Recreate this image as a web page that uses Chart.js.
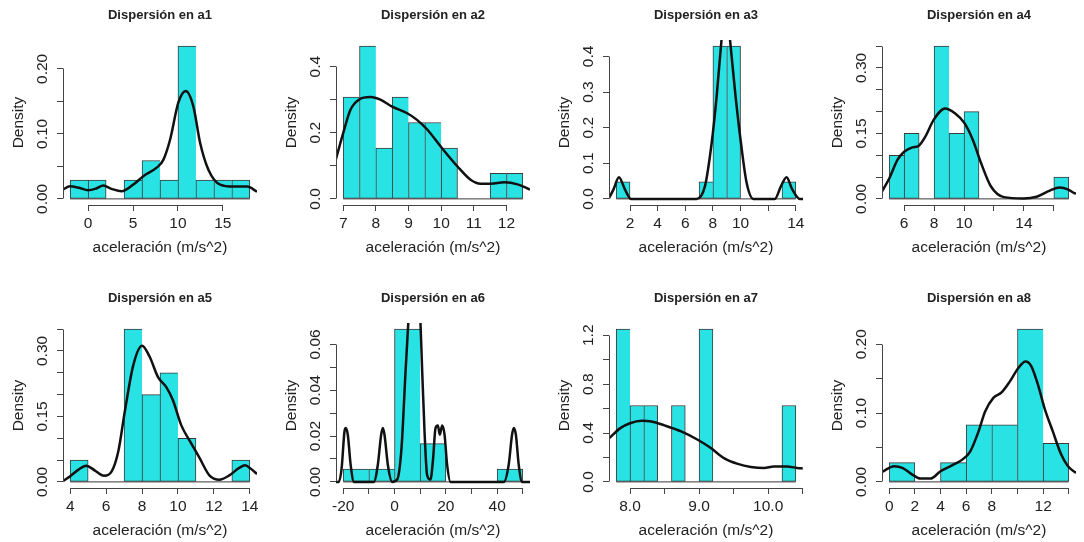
<!DOCTYPE html>
<html>
<head>
<meta charset="utf-8">
<title>Dispersión en a1 - a8</title>
<script src="https://cdn.jsdelivr.net/npm/chart.js@4"></script>
<style>
    html, body { margin: 0; padding: 0; background: #fff; }
    #wrap { position: relative; width: 1084px; height: 542px; overflow: hidden; }
    #wrap canvas { position: absolute; }
</style>
</head>
<body>
<div id="wrap"></div>
<script>
// ---- data (density scale) ----
const a1Breaks = [-2, 0, 2, 4, 6, 8, 10, 12, 14, 16, 18];
const a1Dens = [0.029, 0.029, 0, 0.029, 0.059, 0.029, 0.235, 0.029, 0.029, 0.029];
const a1CurveX = [-2.8, -2.04, -1, 0, 0.9, 1.68, 2.6, 3.72, 5.03, 6.14, 7.63, 8.37, 9.12, 10.04, 10.87, 11.72, 12.47, 13.39, 14.7, 16.18, 17.7, 18.8];
const a1CurveY = [0.0143, 0.0194, 0.017, 0.0133, 0.016, 0.0205, 0.0154, 0.0117, 0.022, 0.035, 0.048, 0.06, 0.091, 0.148, 0.166, 0.142, 0.086, 0.045, 0.022, 0.019, 0.019, 0.011];
const a1XTicks = [0, 5, 10, 15];
const a1XLabels = ['0', '5', '10', '15'];
const a1YTicks = [0, 0.05, 0.1, 0.15, 0.2];
const a1YLabels = ['0.00', '', '0.10', '', '0.20'];

const a2Breaks = [7, 7.5, 8, 8.5, 9, 9.5, 10, 10.5, 11, 11.5, 12, 12.5];
const a2Dens = [0.308, 0.462, 0.154, 0.308, 0.231, 0.231, 0.154, 0, 0, 0.077, 0.077];
const a2CurveX = [6.78, 7.0, 7.22, 7.48, 7.84, 8.14, 8.5, 8.96, 9.26, 9.58, 9.98, 10.5, 10.9, 11.21, 11.52, 11.93, 12.34, 12.72];
const a2CurveY = [0.121, 0.199, 0.269, 0.3, 0.308, 0.3, 0.279, 0.259, 0.239, 0.209, 0.159, 0.098, 0.058, 0.046, 0.046, 0.05, 0.044, 0.028];
const a2XTicks = [7, 8, 9, 10, 11, 12];
const a2XLabels = ['7', '8', '9', '10', '11', '12'];
const a2YTicks = [0, 0.1, 0.2, 0.3, 0.4];
const a2YLabels = ['0.0', '', '0.2', '', '0.4'];

const a3Breaks = [1, 2, 3, 4, 5, 6, 7, 8, 9, 10, 11, 12, 13, 14];
const a3Dens = [0.048, 0, 0, 0, 0, 0, 0.048, 0.429, 0.429, 0, 0, 0, 0.048];
const a3CurveX = [0.48, 0.8, 1.2, 1.64, 2.07, 4, 6.82, 7.42, 7.91, 8.27, 8.63, 8.93, 9.23, 9.64, 10.03, 10.44, 10.92, 12.48, 12.92, 13.33, 13.74, 14.29, 14.52];
const a3CurveY = [0.002, 0.026, 0.061, 0.026, 0, 0, 0, 0.035, 0.157, 0.288, 0.45, 0.56, 0.45, 0.288, 0.157, 0.045, 0, 0, 0.035, 0.061, 0.027, 0, 0];
const a3XTicks = [2, 4, 6, 8, 10, 12, 14];
const a3XLabels = ['2', '4', '6', '8', '10', '', '14'];
const a3YTicks = [0, 0.1, 0.2, 0.3, 0.4];
const a3YLabels = ['0.0', '0.1', '0.2', '0.3', '0.4'];

const a4Breaks = [5, 6, 7, 8, 9, 10, 11, 12, 13, 14, 15, 16, 17];
const a4Dens = [0.1, 0.15, 0, 0.35, 0.15, 0.2, 0, 0, 0, 0, 0, 0.05];
const a4CurveX = [4.52, 5.02, 5.56, 6.0, 6.55, 6.98, 7.42, 7.97, 8.73, 9.39, 10.04, 10.59, 11.14, 11.79, 12.67, 13.98, 14.85, 15.73, 16.38, 16.93, 17.37, 17.48];
const a4CurveY = [0.017, 0.048, 0.09, 0.108, 0.118, 0.122, 0.143, 0.181, 0.207, 0.196, 0.173, 0.135, 0.082, 0.029, 0.004, 0.001, 0.005, 0.019, 0.026, 0.022, 0.013, 0.012];
const a4XTicks = [6, 8, 10, 12, 14, 16];
const a4XLabels = ['6', '8', '10', '', '14', ''];
const a4YTicks = [0, 0.05, 0.1, 0.15, 0.2, 0.25, 0.3, 0.35];
const a4YLabels = ['0.00', '', '', '0.15', '', '', '0.30', ''];

const a5Breaks = [4, 5, 6, 7, 8, 9, 10, 11, 12, 13, 14];
const a5Dens = [0.05, 0, 0, 0.35, 0.2, 0.25, 0.1, 0, 0, 0.05];
const a5CurveX = [3.6, 4.0, 4.46, 4.89, 5.38, 5.88, 6.31, 6.68, 7.04, 7.51, 8.0, 8.43, 8.89, 9.35, 9.72, 10.18, 10.73, 11.2, 11.75, 12.3, 12.86, 13.41, 13.74, 14.06, 14.4];
const a5CurveY = [0.002, 0.013, 0.028, 0.037, 0.026, 0.014, 0.024, 0.07, 0.161, 0.267, 0.312, 0.286, 0.24, 0.217, 0.187, 0.13, 0.089, 0.055, 0.015, 0.005, 0.015, 0.032, 0.038, 0.03, 0.018];
const a5XTicks = [4, 6, 8, 10, 12, 14];
const a5XLabels = ['4', '6', '8', '10', '12', '14'];
const a5YTicks = [0, 0.05, 0.1, 0.15, 0.2, 0.25, 0.3, 0.35];
const a5YLabels = ['0.00', '', '', '0.15', '', '', '0.30', ''];

const a6Breaks = [-20, -10, 0, 10, 20, 30, 40, 50];
const a6Dens = [0.0056, 0.0056, 0.0667, 0.0167, 0, 0, 0.0056];
const a6CurveX = [-22.8, -21.7, -20.6, -19.5, -19.0, -18.2, -17.1, -15.8, -8.05, -6.5, -5.2, -4.55, -3.9, -2.6, -0.9, 1.04, 2.73, 4.29, 5.3, 7.6, 10.1, 10.8, 11.7, 12.7, 14.0, 15.06, 15.97, 16.9, 17.66, 18.57, 19.5, 20.5, 21.8, 42.6, 44.5, 45.8, 46.5, 47.3, 48.4, 49.7, 52.8];
const a6CurveY = [0, 0, 0.006, 0.022, 0.0235, 0.0206, 0.0075, 0, 0, 0.0075, 0.0206, 0.0235, 0.0206, 0.0075, 0, 0.001, 0.0148, 0.048, 0.068, 0.11, 0.07, 0.048, 0.022, 0.003, 0.001, 0.0104, 0.0235, 0.0246, 0.0206, 0.0246, 0.0206, 0.0075, 0, 0, 0.0075, 0.0206, 0.0235, 0.0206, 0.0075, 0, 0];
const a6XTicks = [-20, -10, 0, 10, 20, 30, 40, 50];
const a6XLabels = ['-20', '', '0', '', '20', '', '40', ''];
const a6YTicks = [0, 0.01, 0.02, 0.03, 0.04, 0.05, 0.06];
const a6YLabels = ['0.00', '', '0.02', '', '0.04', '', '0.06'];

const a7Breaks = [7.8, 8.0, 8.2, 8.4, 8.6, 8.8, 9.0, 9.2, 9.4, 9.6, 9.8, 10.0, 10.2, 10.4];
const a7Dens = [1.25, 0.625, 0.625, 0, 0.625, 0, 1.25, 0, 0, 0, 0, 0, 0.625];
const a7CurveX = [7.7, 7.86, 8.0, 8.17, 8.31, 8.5, 8.74, 8.98, 9.17, 9.36, 9.56, 9.75, 9.94, 10.08, 10.27, 10.42, 10.5];
const a7CurveY = [0.358, 0.44, 0.48, 0.5, 0.494, 0.462, 0.413, 0.345, 0.277, 0.195, 0.147, 0.122, 0.114, 0.125, 0.125, 0.114, 0.109];
const a7XTicks = [8.0, 8.5, 9.0, 9.5, 10.0, 10.5];
const a7XLabels = ['8.0', '', '9.0', '', '10.0', ''];
const a7YTicks = [0, 0.2, 0.4, 0.6, 0.8, 1.0, 1.2];
const a7YLabels = ['0.0', '', '0.4', '', '0.8', '', '1.2'];

const a8Breaks = [0, 2, 4, 6, 8, 10, 12, 14];
const a8Dens = [0.028, 0, 0.028, 0.083, 0.083, 0.222, 0.056];
const a8CurveX = [-0.56, 0.39, 1.03, 1.8, 2.45, 3.22, 4.0, 4.9, 5.67, 6.31, 6.96, 7.47, 8.12, 8.76, 9.41, 10.05, 10.62, 11.08, 11.6, 12.11, 12.76, 13.4, 13.92, 14.56];
const a8CurveY = [0.0145, 0.0227, 0.0203, 0.0106, 0.0048, 0.0048, 0.0155, 0.024, 0.032, 0.044, 0.073, 0.102, 0.122, 0.13, 0.146, 0.165, 0.175, 0.168, 0.141, 0.107, 0.073, 0.04, 0.023, 0.013];
const a8XTicks = [0, 2, 4, 6, 8, 10, 12, 14];
const a8XLabels = ['0', '2', '4', '6', '8', '', '12', ''];
const a8YTicks = [0, 0.05, 0.1, 0.15, 0.2];
const a8YLabels = ['0.00', '', '0.10', '', '0.20'];

// ---- look ----
const FONT = "'Liberation Sans', Arial, sans-serif";
const TEXT = '#222';
const AXIS = '#444';
const BAR_FILL = '#28e2e4';
const BAR_EDGE = '#3a3a3a';
const TICK_SIZE = 15.5;
const CANVAS_W = 265;
const CANVAS_H = 260;
const PLOT_LEFT = 63;
const PLOT_W = 194;
const PLOT_TOP = 40;
const PLOT_H = 165;
const COL_X = [0, 273, 546, 819];
const ROW_Y = [0, 283];

const panels = [
    { name: 'a1', breaks: a1Breaks, dens: a1Dens, cx: a1CurveX, cy: a1CurveY, xt: a1XTicks, xl: a1XLabels, yt: a1YTicks, yl: a1YLabels },
    { name: 'a2', breaks: a2Breaks, dens: a2Dens, cx: a2CurveX, cy: a2CurveY, xt: a2XTicks, xl: a2XLabels, yt: a2YTicks, yl: a2YLabels },
    { name: 'a3', breaks: a3Breaks, dens: a3Dens, cx: a3CurveX, cy: a3CurveY, xt: a3XTicks, xl: a3XLabels, yt: a3YTicks, yl: a3YLabels },
    { name: 'a4', breaks: a4Breaks, dens: a4Dens, cx: a4CurveX, cy: a4CurveY, xt: a4XTicks, xl: a4XLabels, yt: a4YTicks, yl: a4YLabels },
    { name: 'a5', breaks: a5Breaks, dens: a5Dens, cx: a5CurveX, cy: a5CurveY, xt: a5XTicks, xl: a5XLabels, yt: a5YTicks, yl: a5YLabels },
    { name: 'a6', breaks: a6Breaks, dens: a6Dens, cx: a6CurveX, cy: a6CurveY, xt: a6XTicks, xl: a6XLabels, yt: a6YTicks, yl: a6YLabels },
    { name: 'a7', breaks: a7Breaks, dens: a7Dens, cx: a7CurveX, cy: a7CurveY, xt: a7XTicks, xl: a7XLabels, yt: a7YTicks, yl: a7YLabels },
    { name: 'a8', breaks: a8Breaks, dens: a8Dens, cx: a8CurveX, cy: a8CurveY, xt: a8XTicks, xl: a8XLabels, yt: a8YTicks, yl: a8YLabels },
];

Chart.defaults.font.family = FONT;
Chart.defaults.color = TEXT;

const alignPx = (p) => Math.round(p - 0.5) + 0.5;

// R draws the axis line only between the first and last tick
const rAxisLines = {
    id: 'rAxisLines',
    afterDraw(chart) {
        const { ctx, chartArea } = chart;
        const xs = chart.scales.x;
        const ys = chart.scales.y;
        ctx.save();
        ctx.strokeStyle = AXIS;
        ctx.lineWidth = 1;
        ctx.beginPath();
        const yb = alignPx(chartArea.bottom);
        ctx.moveTo(alignPx(xs.getPixelForValue(xs.ticks[0].value)), yb);
        ctx.lineTo(alignPx(xs.getPixelForValue(xs.ticks[xs.ticks.length - 1].value)), yb);
        const xl = alignPx(chartArea.left);
        ctx.moveTo(xl, alignPx(ys.getPixelForValue(ys.ticks[0].value)));
        ctx.lineTo(xl, alignPx(ys.getPixelForValue(ys.ticks[ys.ticks.length - 1].value)));
        ctx.stroke();
        ctx.restore();
    },
};

const measure = document.createElement('canvas').getContext('2d');
measure.font = `${TICK_SIZE}px ${FONT}`;

const wrap = document.getElementById('wrap');

panels.forEach((p, k) => {
    const canvas = document.createElement('canvas');
    canvas.width = CANVAS_W;
    canvas.height = CANVAS_H;
    canvas.style.left = `${COL_X[k % 4]}px`;
    canvas.style.top = `${ROW_Y[Math.floor(k / 4)]}px`;
    wrap.appendChild(canvas);

    const lo = p.breaks[0];
    const hi = p.breaks[p.breaks.length - 1];
    const xPad = (hi - lo) * 0.04;
    const yMax = Math.max(...p.dens);

    const bars = p.dens.map((d, i) => ({ x: (p.breaks[i] + p.breaks[i + 1]) / 2, y: d }));
    const curve = p.cx.map((x, i) => ({ x: x, y: p.cy[i] }));
    // empty bins still show as a line at zero in R
    const base = [{ x: lo, y: 0 }, { x: hi, y: 0 }];

    // rotated y labels: centre them ~43px from the left edge
    const widest = Math.max(...p.yl.map((t) => measure.measureText(t).width));
    const yPadding = PLOT_LEFT - 6 - 42.8 - widest / 2;

    new Chart(canvas, {
        type: 'bar',
        data: {
            datasets: [
                {
                    type: 'line',
                    data: curve,
                    borderColor: '#111',
                    borderWidth: 2.5,
                    pointRadius: 0,
                    cubicInterpolationMode: 'monotone',
                    fill: false,
                    order: 0,
                },
                {
                    type: 'bar',
                    data: bars,
                    backgroundColor: BAR_FILL,
                    borderColor: BAR_EDGE,
                    borderSkipped: false,
                    borderWidth: (c) => {
                        const i = c.dataIndex;
                        const nextFilled = i + 1 < p.dens.length && p.dens[i + 1] > 0;
                        return { top: 1, bottom: 1, left: 1, right: nextFilled ? 0 : 1 };
                    },
                    barPercentage: 1,
                    categoryPercentage: 1,
                    order: 1,
                },
                {
                    type: 'line',
                    data: base,
                    borderColor: BAR_EDGE,
                    borderWidth: 1,
                    pointRadius: 0,
                    fill: false,
                    order: 2,
                },
            ],
        },
        options: {
            responsive: false,
            animation: false,
            events: [],
            layout: { padding: { left: 0, right: CANVAS_W - PLOT_LEFT - PLOT_W, top: 0, bottom: 0 } },
            plugins: {
                legend: { display: false },
                tooltip: { enabled: false },
                title: {
                    display: true,
                    text: `Dispersión en ${p.name}`,
                    fullSize: false,
                    color: TEXT,
                    font: { size: 13, weight: 'bold', family: FONT },
                    padding: { top: 8, bottom: PLOT_TOP - 8 - 13 * 1.2 },
                },
            },
            scales: {
                x: {
                    type: 'linear',
                    offset: false,
                    min: lo - xPad,
                    max: hi + xPad,
                    afterBuildTicks: (s) => {
                        s.ticks = p.xt.map((v) => ({ value: v }));
                    },
                    afterFit: (s) => {
                        s.height = CANVAS_H - PLOT_TOP - PLOT_H;
                    },
                    border: { display: false },
                    grid: { drawOnChartArea: false, drawTicks: true, tickLength: 6, color: AXIS, offset: false },
                    ticks: {
                        autoSkip: false,
                        maxRotation: 0,
                        padding: 3.3,
                        color: TEXT,
                        font: { size: TICK_SIZE },
                        callback: (v, i) => p.xl[i],
                    },
                    title: {
                        display: true,
                        text: 'aceleración (m/s^2)',
                        color: TEXT,
                        font: { size: TICK_SIZE },
                        padding: { top: 0, bottom: 2.7 },
                    },
                },
                y: {
                    type: 'linear',
                    min: -0.04 * yMax,
                    max: 1.04 * yMax,
                    afterBuildTicks: (s) => {
                        s.ticks = p.yt.map((v) => ({ value: v }));
                    },
                    afterFit: (s) => {
                        s.width = PLOT_LEFT;
                    },
                    border: { display: false },
                    grid: { drawOnChartArea: false, drawTicks: true, tickLength: 6, color: AXIS },
                    ticks: {
                        autoSkip: false,
                        minRotation: 90,
                        maxRotation: 90,
                        crossAlign: 'center',
                        padding: yPadding,
                        color: TEXT,
                        font: { size: TICK_SIZE },
                        callback: (v, i) => p.yl[i],
                    },
                    title: {
                        display: true,
                        text: 'Density',
                        color: TEXT,
                        font: { size: TICK_SIZE },
                        padding: { top: 9, bottom: 0 },
                    },
                },
            },
        },
        plugins: [rAxisLines],
    });
});
</script>
</body>
</html>
